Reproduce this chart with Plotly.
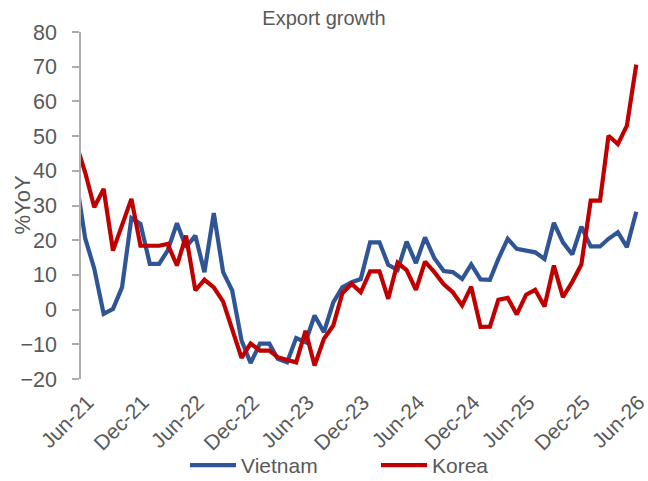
import pandas as pd
import plotly.graph_objects as go

# Monthly export growth (% YoY), plotted at mid-month; the first value (May-21)
# sits just before the axis start so the lines run in from the left edge.
months = (pd.date_range("2021-05-01", "2026-06-01", freq="MS") + pd.Timedelta(days=14)).strftime("%Y-%m-%d").tolist()

vietnam = [38, 20.5, 11.8, -1.2, 0.2, 6.4, 26.4, 24.7, 13.2, 13.2, 17, 24.9, 18, 21.3,
           10.8, 27.8, 10.8, 5.5, -8.9, -15.4, -9.8, -9.8, -14.2, -15.2, -8.2, -9.4,
           -1.7, -6.5, 2.1, 6.4, 7.9, 8.8, 19.4, 19.4, 12.9, 11.4, 19.6, 13.4, 20.8,
           14.8, 11.1, 10.8, 8.8, 13, 8.7, 8.6, 14.6, 20.4, 17.5, 17, 16.5, 14.6, 25,
           19.4, 15.9, 23.9, 18.2, 18.2, 20.4, 22.3, 18, 28.2]

korea = [48, 39.5, 29.5, 34.8, 17, 24.2, 31.9, 18.4, 18.4, 18.4, 18.9, 12.7, 21.3, 5.5,
         8.6, 6.4, 2.3, -5.8, -13.9, -9.8, -11.8, -11.8, -13.7, -14.5, -15.2, -6.1,
         -16.1, -8.4, -4.6, 4.7, 7.4, 5, 11, 11, 3.1, 13.5, 11.4, 5.7, 13.8, 10.8, 7.3,
         5, 1.2, 6.6, -5, -4.9, 2.8, 3.4, -1.4, 4.3, 5.7, 0.9, 12.7, 3.6, 8, 13, 31.4,
         31.4, 50.1, 47.7, 53, 70.6]

tick_dates = ["2021-06-01", "2021-12-01", "2022-06-01", "2022-12-01", "2023-06-01",
              "2023-12-01", "2024-06-01", "2024-12-01", "2025-06-01", "2025-12-01",
              "2026-06-01"]
tick_labels = ["Jun-21", "Dec-21", "Jun-22", "Dec-22", "Jun-23", "Dec-23", "Jun-24",
               "Dec-24", "Jun-25", "Dec-25", "Jun-26"]

# rotated labels sit a little to the right of their tick marks
label_dates = (pd.to_datetime(tick_dates) + pd.Timedelta(days=22)).strftime("%Y-%m-%d").tolist()

x_range = ["2021-06-01", "2026-07-04"]
FONT = "Arial, Liberation Sans, sans-serif"
TEXT = "#595959"
AXIS = "#ADADAD"

fig = go.Figure()
fig.add_trace(go.Scatter(x=months, y=vietnam, name="Vietnam", mode="lines",
                         line=dict(color="#2F5597", width=4.2)))
fig.add_trace(go.Scatter(x=months, y=korea, name="Korea", mode="lines",
                         line=dict(color="#C00000", width=4.2)))

fig.update_layout(
    width=648, height=481,
    margin=dict(l=81, r=6, t=32, b=102),
    paper_bgcolor="white", plot_bgcolor="white",
    font=dict(family=FONT, size=21, color=TEXT),
    title=dict(text="Export growth", x=0.5, xref="container", xanchor="center",
               y=1 - 18 / 481, yref="container", yanchor="middle",
               font=dict(family=FONT, size=20, color=TEXT)),
    xaxis=dict(type="date", range=x_range, tickvals=label_dates, ticktext=tick_labels,
               tickangle=-45, ticks="", showline=False, showgrid=False, zeroline=False,
               automargin=False, ticklabelstandoff=6, ticklabeloverflow="allow",
               tickfont=dict(size=21, color=TEXT)),
    # axis line drawn through y = 0 with the month ticks hanging below it
    xaxis2=dict(type="date", range=x_range, overlaying="x", anchor="free", position=0.2,
                side="bottom", tickvals=tick_dates, showticklabels=False, ticks="outside",
                ticklen=6, tickwidth=1.5, tickcolor=AXIS, showline=True, linecolor=AXIS,
                linewidth=1.5, showgrid=False, zeroline=False, automargin=False),
    yaxis=dict(range=[-20, 80], dtick=10, tick0=0, ticks="outside", ticklen=7,
               tickwidth=1.5, tickcolor=AXIS, showline=True, linecolor=AXIS, linewidth=1.5,
               showgrid=False, zeroline=False, ticklabelstandoff=11, automargin=False,
               tickfont=dict(size=21.5, color=TEXT)),
    annotations=[dict(text="%YoY", textangle=-90, xref="paper", yref="paper",
                      x=(22 - 81) / 561, y=0.5, xanchor="center", yanchor="middle",
                      showarrow=False, font=dict(size=22, color=TEXT))],
    showlegend=True,
    legend=dict(orientation="h", xref="container", yref="container", x=185 / 648,
                xanchor="left", y=1 - 445 / 481, yanchor="top", itemwidth=46,
                font=dict(size=21, color=TEXT), entrywidth=130, bgcolor="rgba(0,0,0,0)"),
)

fig.write_html("out.html")
